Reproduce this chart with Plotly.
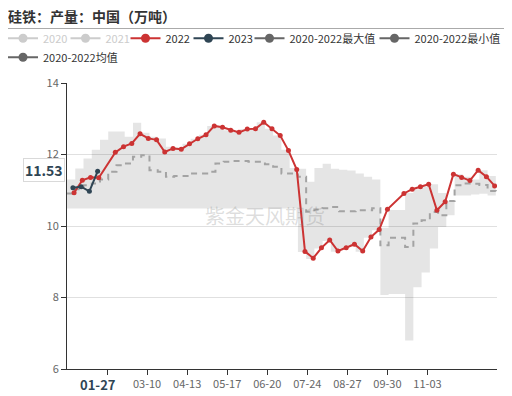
import plotly.graph_objects as go

# ---------------- data ----------------
dates_2022 = ["01-07","01-14","01-21","01-28","02-11","02-18","02-25","03-04","03-11","03-18",
              "03-25","04-01","04-08","04-15","04-22","04-29","05-06","05-13","05-20","05-27",
              "06-03","06-10","06-17","06-24","07-01","07-08","07-15","07-22","07-29","08-05",
              "08-12","08-19","08-26","09-02","09-09","09-16","09-23","09-30","10-14","10-21",
              "10-28","11-04","11-11","11-18","11-25","12-02","12-09","12-16","12-23","12-30"]
values_2022 = [10.93,11.28,11.36,11.35,12.06,12.22,12.31,12.58,12.45,12.41,
               12.07,12.17,12.15,12.30,12.44,12.55,12.80,12.76,12.68,12.62,
               12.71,12.72,12.90,12.72,12.53,12.11,11.58,9.29,9.10,9.39,
               9.61,9.30,9.39,9.49,9.30,9.69,9.90,10.47,10.91,11.03,
               11.10,11.17,10.44,10.68,11.45,11.36,11.27,11.56,11.38,11.12]

dates_2023 = ["01-06","01-13","01-20","01-27"]
values_2023 = [11.07,11.10,10.97,11.53]

band_dates = ["01-01","01-08","01-15","01-22","01-29","02-05","02-12","02-19","02-26","03-05",
              "03-12","03-19","03-26","04-02","04-09","04-16","04-23","04-30","05-07","05-14",
              "05-21","05-28","06-04","06-11","06-18","06-25","07-02","07-09","07-16","07-23",
              "07-30","08-06","08-13","08-20","08-27","09-03","09-10","09-17","09-24","10-01",
              "10-08","10-15","10-22","10-29","11-05","11-12","11-19","11-26","12-03","12-10",
              "12-17","12-24","12-31"]
band_max = [11.30,11.61,11.89,12.13,12.41,12.64,12.64,12.50,12.89,12.61,
            12.50,12.45,12.22,12.20,12.30,12.44,12.55,12.80,12.76,12.68,
            12.64,12.71,12.72,12.90,12.72,12.53,12.13,11.62,11.60,11.24,
            11.62,11.74,11.60,11.57,11.55,11.47,11.38,11.30,9.95,10.45,
            10.45,10.92,11.03,11.10,11.17,10.92,10.70,11.45,11.38,11.30,
            11.56,11.40,11.15]
band_min = [10.49,10.49,10.49,10.49,10.49,10.49,10.49,10.49,10.49,10.49,
            10.49,10.49,10.49,10.49,10.49,10.49,10.49,10.49,10.49,10.49,
            10.49,10.49,10.49,10.49,10.49,10.49,10.49,10.49,9.27,9.08,
            9.37,9.58,9.28,9.37,9.47,9.28,9.67,9.88,8.07,8.10,
            8.10,6.80,8.29,8.70,9.37,9.97,10.30,10.85,10.85,10.88,
            10.90,10.85,10.85]
band_mean = [10.91,11.03,11.14,11.19,11.30,11.52,11.70,11.75,11.94,11.98,
             11.56,11.52,11.38,11.40,11.40,11.47,11.47,11.52,11.75,11.80,
             11.82,11.82,11.80,11.80,11.73,11.66,11.47,11.47,11.38,10.40,
             10.46,10.50,10.53,10.41,10.41,10.44,10.44,10.50,9.46,9.67,
             9.67,9.41,10.07,10.16,10.39,10.30,10.70,11.14,11.19,11.18,
             11.15,10.98,10.95]

tick_dates = ["02-04","03-10","04-13","05-17","06-20","07-24","08-27","09-30","11-03"]
tick_text = ["","03-10","04-13","05-17","06-20","07-24","08-27","09-30","11-03"]

legend_names = ["2020","2021","2022","2023","2020-2022最大值","2020-2022最小值","2020-2022均值"]
legend_colors = ["#cccccc","#cccccc","#cc3333","#2f4554","#666666","#666666","#666666"]
legend_text_colors = ["#cccccc","#cccccc","#333333","#333333","#333333","#333333","#333333"]
latest_label = "01-27"
latest_value = 11.53

# ---------------- geometry (page body has an 8px margin) ----------------
OFF = 8
W, H = 512 - OFF, 396 - OFF
L, T = 67 - OFF, 83 - OFF
R = W - (497 - OFF)
B = H - (369 - OFF)
PW, PH = W - L - R, H - T - B

def px_x(p):  # reference pixel -> paper x
    return (p - OFF - L) / PW

def px_y(p):  # reference pixel -> paper y
    return 1 + (T - (p - OFF)) / PH

BASE = "2022-"
def to_x(mmdd):
    return [BASE + m for m in mmdd]

RED = "#cc3333"
NAVY = "#2f4554"
FONT = "Noto Sans CJK SC, Noto Sans, sans-serif"

fig = go.Figure()

# band (min / max)
fig.add_trace(go.Scatter(x=to_x(band_dates), y=band_min, mode="lines",
                         line=dict(width=0, shape="hv", color="rgba(0,0,0,0)"),
                         showlegend=False, hoverinfo="skip"))
fig.add_trace(go.Scatter(x=to_x(band_dates), y=band_max, mode="lines",
                         line=dict(width=0, shape="hv", color="rgba(0,0,0,0)"),
                         fill="tonexty", fillcolor="rgba(0,0,0,0.1)",
                         showlegend=False, hoverinfo="skip"))
# mean
fig.add_trace(go.Scatter(x=to_x(band_dates), y=band_mean, mode="lines",
                         line=dict(color="#a3a3a3", width=2, dash="6px,5px", shape="hv"),
                         showlegend=False, hoverinfo="skip"))
# 2022
fig.add_trace(go.Scatter(x=to_x(dates_2022), y=values_2022, mode="lines+markers",
                         line=dict(color=RED, width=2), marker=dict(size=5, color=RED),
                         showlegend=False))
# 2023
fig.add_trace(go.Scatter(x=to_x(dates_2023), y=values_2023, mode="lines+markers",
                         line=dict(color=NAVY, width=2), marker=dict(size=5, color=NAVY),
                         showlegend=False))

# legend entries: one legend per entry so they can be laid out like the original
legend_icon_centers = [25, 87.5, 147.5, 210.5, 271.5, 396.5, 25]   # reference pixels
legend_rows = [38.3, 38.3, 38.3, 38.3, 38.3, 38.3, 57.3]
layout_legends = {}
for i, nm in enumerate(legend_names):
    key = "legend" if i == 0 else "legend%d" % (i + 1)
    fig.add_trace(go.Scatter(x=[None], y=[None], name=nm, mode="lines+markers",
                             line=dict(color=legend_colors[i], width=2),
                             marker=dict(size=9, color=legend_colors[i]),
                             legend=key, hoverinfo="skip"))
    layout_legends[key] = dict(
        x=px_x(legend_icon_centers[i] - 22), y=px_y(legend_rows[i]),
        xanchor="left", yanchor="middle", orientation="h",
        font=dict(size=11, color=legend_text_colors[i], family=FONT),
        itemwidth=30, bgcolor="rgba(0,0,0,0)", borderwidth=0)

fig.update_layout(
    width=W, height=H,
    margin=dict(l=L, r=R, t=T, b=B, autoexpand=False),
    paper_bgcolor="white", plot_bgcolor="white",
    font=dict(family=FONT, size=11, color="#333"),
    title=dict(text="<b>硅铁：产量：中国（万吨）</b>", x=0, xanchor="left",
               y=1 - (17.5 - OFF) / H, yanchor="middle",
               font=dict(size=14, color="#333", family=FONT)),
    xaxis=dict(type="date", range=["2022-01-01", "2023-01-01"],
               tickvals=to_x(tick_dates), ticktext=tick_text,
               ticks="outside", ticklen=5, tickcolor="#333",
               showline=True, linecolor="#333", linewidth=1,
               showgrid=False, zeroline=False,
               tickfont=dict(size=11, color="#666")),
    yaxis=dict(range=[6, 14], tickvals=[6, 8, 10, 12, 14],
               ticks="outside", ticklen=5, tickcolor="#333",
               showline=True, linecolor="#333", linewidth=1,
               showgrid=True, gridcolor="#e0e0e0", zeroline=False,
               tickfont=dict(size=11, color="#666")),
    shapes=[dict(type="line", xref="paper", yref="paper", x0=px_x(OFF), x1=px_x(512),
                 y0=px_y(28.5), y1=px_y(28.5), line=dict(color="#aaaaaa", width=1))],
    annotations=[
        dict(text="紫金天风期货", xref="paper", yref="paper", x=px_x(265), y=px_y(215),
             showarrow=False, font=dict(size=20, color="rgba(120,120,120,0.25)", family=FONT)),
        dict(text="<b>%.2f</b>" % latest_value, xref="paper", yref="y", x=0, y=latest_value,
             xanchor="right", yanchor="middle", xshift=-2, yshift=1, showarrow=False,
             font=dict(size=14, color=NAVY, family=FONT), bgcolor="white",
             bordercolor="#d9d9d9", borderwidth=1, borderpad=1),
        dict(text="<b>%s</b>" % latest_label, xref="x", yref="paper", x=BASE + latest_label, y=0,
             xanchor="center", yanchor="top", yshift=-4, showarrow=False,
             font=dict(size=13, color=NAVY, family=FONT)),
    ],
    **layout_legends,
)

fig.write_html("out.html")
